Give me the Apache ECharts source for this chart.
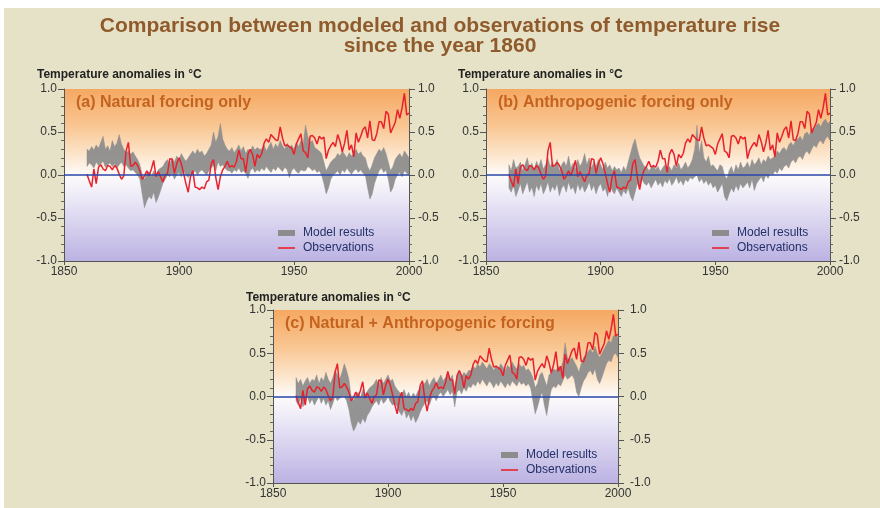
<!DOCTYPE html>
<html>
<head>
<meta charset="utf-8">
<script src="https://cdn.jsdelivr.net/npm/echarts@6/dist/echarts.min.js"></script>
<style>
html,body{margin:0;padding:0;background:#ffffff;}
#chart{width:880px;height:508px;}
</style>
</head>
<body>
<div id="chart"></div>
<script>
// ---------------- DATA ----------------
const startYear = 1860;
const xTicks = [1850, 1900, 1950, 2000];
const yTicks = [-1.0, -0.5, 0.0, 0.5, 1.0];

// Observed temperature anomalies (°C), 1860-2000
const obs = [
  0.01,-0.07,-0.14,0.07,-0.10,0.09,0.12,0.07,0.05,0.11,
  0.10,0.06,0.11,0.08,0.01,-0.05,-0.01,0.28,0.38,0.10,
  0.11,0.15,0.11,0.05,-0.05,-0.01,0.05,-0.01,0.07,0.17,
  -0.02,0.04,-0.02,-0.08,0.00,0.02,0.19,0.18,0.02,0.13,
  0.20,0.13,0.02,-0.10,-0.20,-0.02,0.05,-0.14,-0.15,-0.17,
  -0.14,-0.16,-0.08,-0.06,0.13,0.18,-0.03,-0.17,-0.02,0.06,
  0.10,0.16,0.09,0.11,0.09,0.16,0.29,0.19,0.19,0.03,
  0.24,0.30,0.24,0.10,0.24,0.20,0.25,0.37,0.42,0.38,
  0.47,0.44,0.41,0.40,0.56,0.43,0.34,0.35,0.33,0.31,
  0.24,0.36,0.42,0.48,0.28,0.26,0.20,0.45,0.46,0.43,
  0.36,0.45,0.42,0.44,0.19,0.29,0.34,0.38,0.33,0.47,
  0.39,0.27,0.37,0.52,0.29,0.35,0.21,0.49,0.38,0.45,
  0.53,0.56,0.43,0.63,0.41,0.40,0.48,0.62,0.62,0.54,
  0.74,0.71,0.49,0.55,0.61,0.76,0.66,0.78,0.95,0.70,
  0.72
];

// (a) Natural forcing only: model range low / high
const natLow = [
  0.10,0.14,0.12,0.08,0.15,0.11,0.13,0.16,0.09,0.12,0.14,0.10,0.13,0.08,0.12,0.15,0.10,0.12,
  0.08,0.05,0.06,0.03,0.00,-0.05,
  -0.22,-0.38,-0.30,-0.25,-0.28,-0.20,-0.32,-0.26,-0.18,
  -0.10,-0.05,0.00,-0.02,0.02,-0.05,0.00,0.03,-0.02,0.05,0.00,-0.03,0.02,
  0.02,0.05,0.00,0.04,0.06,0.03,0.00,0.05,
  0.08,0.12,0.05,0.15,0.10,0.12,0.08,0.05,
  0.05,0.02,0.06,0.04,0.08,0.03,0.05,0.02,-0.04,0.05,0.08,0.03,0.06,0.04,
  0.08,0.05,0.10,0.06,0.03,0.08,0.05,0.10,0.07,0.04,0.09,0.06,-0.03,0.05,0.08,0.04,0.02,0.06,0.05,
  0.05,0.10,0.08,0.05,0.07,0.03,0.05,0.00,
  -0.10,-0.22,-0.15,-0.05,0.00,
  0.02,0.05,0.00,0.06,0.03,0.08,0.04,0.01,0.05,0.07,0.03,0.06,0.02,0.00,
  -0.15,-0.28,-0.22,-0.10,-0.02,
  0.05,0.08,0.03,0.06,
  -0.05,-0.20,-0.15,-0.05,
  0.00,0.03,-0.02,0.05,0.02,0.00
];
const natHigh = [
  0.30,0.28,0.33,0.29,0.35,0.31,0.38,0.45,0.30,0.34,0.28,0.40,0.33,0.37,0.47,0.36,0.30,0.26,
  0.28,0.24,0.27,0.22,0.18,0.12,
  0.00,-0.05,0.02,0.04,-0.02,0.05,0.00,0.06,0.08,
  0.10,0.15,0.18,0.12,0.20,0.15,0.22,0.18,0.25,0.20,0.16,0.20,0.24,
  0.28,0.24,0.30,0.26,0.28,0.22,0.25,0.30,
  0.35,0.50,0.38,0.45,0.60,0.42,0.35,0.30,
  0.28,0.32,0.26,0.30,0.35,0.28,0.33,0.25,0.30,0.27,0.34,0.29,0.32,0.30,
  0.30,0.35,0.28,0.33,0.38,0.30,0.36,0.32,0.40,0.34,0.30,0.37,0.32,0.35,0.30,0.38,0.33,0.40,0.36,
  0.58,0.45,0.38,0.40,0.32,0.30,0.28,0.25,
  0.15,0.05,0.10,0.15,0.18,
  0.20,0.25,0.22,0.28,0.24,0.20,0.26,0.22,0.25,0.30,0.24,0.27,0.22,0.20,
  0.10,0.05,0.12,0.20,0.25,
  0.30,0.27,0.32,0.25,
  0.15,0.05,0.10,0.18,
  0.22,0.25,0.20,0.28,0.24,0.20
];

// (b) Anthropogenic forcing only: model range low / high
const antLow = [
  -0.15,-0.20,-0.12,-0.25,-0.18,-0.10,-0.22,-0.15,-0.08,-0.20,
  -0.14,-0.25,-0.12,-0.18,-0.10,-0.22,-0.16,-0.08,-0.20,-0.13,
  -0.18,-0.10,-0.24,-0.15,-0.12,-0.20,-0.08,-0.17,-0.14,-0.22,
  -0.10,-0.18,-0.12,-0.20,-0.15,-0.08,-0.18,-0.12,-0.22,-0.14,
  -0.10,-0.19,-0.15,-0.25,-0.12,-0.18,-0.22,-0.15,-0.20,-0.25,
  -0.18,-0.22,
  -0.15,-0.25,-0.30,-0.20,-0.10,-0.15,-0.05,-0.10,
  -0.12,-0.08,-0.15,-0.10,-0.05,-0.12,-0.08,-0.14,-0.06,-0.10,
  -0.04,-0.12,-0.08,-0.02,-0.10,-0.06,-0.12,-0.05,-0.08,-0.03,
  -0.05,-0.02,0.00,-0.08,-0.04,-0.10,-0.06,-0.12,-0.08,-0.15,
  -0.12,-0.20,-0.15,-0.10,-0.25,-0.30,-0.22,-0.15,-0.20,-0.12,-0.18,-0.10,-0.15,
  -0.12,-0.08,-0.15,-0.05,-0.18,-0.10,-0.06,-0.02,-0.08,0.00,-0.04,0.02,
  0.00,0.05,0.02,0.08,0.05,0.10,0.12,0.08,0.15,0.18,
  0.14,0.20,0.22,0.18,0.25,0.28,0.24,0.30,0.35,0.32,
  0.38,0.40,0.36,0.42,0.45,0.40
];
const antHigh = [
  0.12,0.05,0.18,0.08,0.10,0.15,0.05,0.12,0.20,0.08,
  0.14,0.06,0.16,0.10,0.18,0.07,0.12,0.20,0.10,0.15,
  0.08,0.18,0.05,0.12,0.16,0.10,0.22,0.08,0.14,0.06,
  0.18,0.10,0.15,0.25,0.12,0.20,0.08,0.15,0.10,0.18,
  0.12,0.06,0.15,0.08,0.12,0.05,0.10,0.06,0.08,0.03,
  0.10,0.05,
  0.15,0.25,0.35,0.42,0.30,0.20,0.15,0.10,
  0.10,0.05,0.08,0.12,0.06,0.10,0.04,0.08,0.12,0.06,
  0.10,0.05,0.12,0.08,0.14,0.06,0.10,0.15,0.08,0.12,
  0.18,0.30,0.58,0.25,0.40,0.20,0.15,0.22,0.10,0.12,
  0.08,0.05,0.12,0.10,0.00,-0.05,0.05,0.10,0.02,0.12,0.06,0.15,0.08,
  0.10,0.15,0.08,0.18,0.12,0.15,0.20,0.12,0.18,0.15,0.22,0.18,
  0.20,0.22,0.28,0.25,0.30,0.32,0.28,0.35,0.38,0.34,
  0.40,0.42,0.45,0.40,0.48,0.50,0.46,0.55,0.52,0.58,
  0.60,0.56,0.62,0.65,0.60,0.62
];

// (c) Natural + Anthropogenic forcing: model range low / high
const allLow = [
  -0.05,-0.10,-0.02,-0.12,-0.05,0.00,-0.08,-0.03,-0.10,-0.05,
  0.00,-0.08,-0.02,-0.10,-0.05,-0.15,-0.08,0.00,-0.05,-0.02,0.00,
  0.00,-0.05,-0.15,
  -0.30,-0.40,-0.35,-0.28,-0.32,-0.25,-0.30,-0.22,-0.18,
  -0.12,-0.08,-0.05,-0.10,-0.02,-0.08,-0.05,0.00,-0.06,-0.10,-0.08,-0.12,
  -0.18,-0.22,-0.15,-0.25,-0.20,-0.28,-0.22,-0.30,-0.25,-0.18,-0.12,
  -0.08,-0.05,-0.10,-0.02,0.00,-0.05,0.02,0.05,0.00,0.04,
  0.08,0.02,0.06,-0.12,0.05,0.08,0.03,0.10,0.06,0.12,
  0.10,0.15,0.12,0.18,0.14,0.20,0.16,0.12,0.18,0.15,
  0.10,0.16,0.12,0.18,0.14,0.10,0.16,0.12,0.18,0.15,
  0.12,0.18,0.14,0.16,0.12,0.15,0.10,
  -0.05,-0.20,-0.12,-0.02,0.05,-0.10,-0.22,-0.05,
  0.08,0.12,0.10,0.15,0.12,0.18,0.25,0.20,0.22,0.25,0.20,
  0.05,0.00,0.10,0.18,0.22,
  0.28,0.30,0.25,0.32,
  0.20,0.15,0.22,0.30,
  0.38,0.42,0.40,0.48,0.50,0.45
];
const allHigh = [
  0.22,0.15,0.20,0.12,0.18,0.22,0.15,0.20,0.18,0.25,
  0.15,0.22,0.18,0.28,0.20,0.15,0.22,0.30,0.25,0.20,0.28,
  0.38,0.30,0.20,
  0.00,-0.05,0.02,0.05,-0.02,0.08,0.02,0.06,0.10,
  0.12,0.15,0.20,0.12,0.22,0.15,0.20,0.25,0.18,0.20,0.12,0.08,
  0.05,0.02,0.08,0.00,0.05,-0.02,0.04,0.00,0.06,0.10,0.15,
  0.15,0.20,0.12,0.18,0.22,0.15,0.20,0.25,0.18,0.22,
  0.28,0.20,0.25,0.10,0.24,0.30,0.22,0.28,0.25,0.30,
  0.30,0.35,0.32,0.38,0.34,0.40,0.36,0.32,0.38,0.35,
  0.30,0.36,0.32,0.38,0.34,0.30,0.36,0.33,0.40,0.35,
  0.32,0.38,0.34,0.36,0.30,0.32,0.28,
  0.22,0.10,0.15,0.25,0.28,0.20,0.12,0.25,
  0.28,0.32,0.30,0.35,0.32,0.40,0.62,0.45,0.42,0.45,0.40,
  0.35,0.28,0.38,0.45,0.48,
  0.52,0.55,0.50,0.58,
  0.50,0.45,0.50,0.55,
  0.60,0.65,0.62,0.70,0.72,0.68
];

const panelTitles = ['(a) Natural forcing only', '(b) Anthropogenic forcing only', '(c) Natural + Anthropogenic forcing'];
const legendNames = ['Model results', 'Observations'];
const yAxisTitle = 'Temperature anomalies in °C';
const mainTitleLines = ['Comparison between modeled and observations of temperature rise', 'since the year 1860'];

// ---------------- CHART ----------------
const years = obs.map((_, i) => startYear + i);
const FONT = 'Liberation Sans, Arial, sans-serif';

const chart = echarts.init(document.getElementById('chart'), null, {renderer: 'canvas'});

function plotBg() {
  return new echarts.graphic.LinearGradient(0, 0, 0, 1, [
    {offset: 0, color: '#f5a862'},
    {offset: 0.22, color: '#f9c793'},
    {offset: 0.42, color: '#fdecd9'},
    {offset: 0.5, color: '#fdfbfa'},
    {offset: 0.62, color: '#eeebf8'},
    {offset: 1, color: '#bbb2e2'}
  ]);
}

const grids = [
  {left: 64, top: 89, width: 345, height: 172},
  {left: 486, top: 89, width: 344, height: 172},
  {left: 273, top: 310, width: 345, height: 173}
];
const bands = [[natLow, natHigh], [antLow, antHigh], [allLow, allHigh]];
const legendPos = [
  {left: 273, top: 222},
  {left: 707, top: 222},
  {left: 496, top: 444}
];
const titlePos = [
  {left: 32, top: 64},
  {left: 453, top: 64},
  {left: 241, top: 287}
];
const rightMargins = [9, 9, 12];

const option = {
  backgroundColor: 'transparent',
  animation: false,
  textStyle: {fontFamily: FONT},
  graphic: [{
    type: 'rect', z: -10, silent: true,
    shape: {x: 4, y: 8, width: 876, height: 500},
    style: {fill: '#e6e2c7'}
  }],
  title: [],
  legend: [],
  grid: [],
  xAxis: [],
  yAxis: [],
  series: []
};

mainTitleLines.forEach((t, i) => {
  option.title.push({
    text: t, left: 'center', top: 11 + i * 20,
    textStyle: {fontFamily: FONT, fontSize: 21, fontWeight: 'bold', color: '#8f5a2c'}
  });
});

function makeBandRenderer(low, high) {
  return function (params, api) {
    if (params.dataIndex !== 0) return null;
    const pts = [];
    for (let i = 0; i < years.length; i++) pts.push(api.coord([years[i], high[i]]));
    for (let i = years.length - 1; i >= 0; i--) pts.push(api.coord([years[i], low[i]]));
    return {
      type: 'polygon',
      shape: {points: pts},
      style: {fill: '#8c8c8c', stroke: '#8c8c8c', lineWidth: 0.5, opacity: 0.93}
    };
  };
}

grids.forEach((g, k) => {
  option.grid.push(Object.assign({show: true, backgroundColor: plotBg(), borderWidth: 0}, g));
  option.title.push({
    text: yAxisTitle, left: titlePos[k].left, top: titlePos[k].top,
    textStyle: {fontFamily: FONT, fontSize: 12, fontWeight: 'bold', color: '#222'}
  });
  option.title.push({
    text: panelTitles[k], left: g.left + 7, top: g.top + 1,
    textStyle: {fontFamily: FONT, fontSize: 16, fontWeight: 'bold', color: '#c4631f'}
  });
  option.xAxis.push({
    type: 'value', gridIndex: k, min: xTicks[0], max: xTicks[xTicks.length - 1],
    interval: xTicks[1] - xTicks[0],
    axisLine: {show: true, onZero: false, lineStyle: {color: '#555', width: 1}},
    axisTick: {show: true, length: 4, lineStyle: {color: '#555'}},
    axisLabel: {color: '#333', fontSize: 12, margin: 5, fontFamily: FONT, showMinLabel: true, showMaxLabel: true,
      formatter: v => String(v)},
    splitLine: {show: false}
  });
  ['left', 'right'].forEach(pos => {
    option.yAxis.push({
      type: 'value', gridIndex: k, position: pos,
      min: yTicks[0], max: yTicks[yTicks.length - 1], interval: yTicks[1] - yTicks[0],
      axisLine: {show: true, onZero: false, lineStyle: {color: '#555', width: 1}},
      axisTick: {show: true, length: 6, lineStyle: {color: '#555'}},
      minorTick: {show: true, splitNumber: 5, length: 3, lineStyle: {color: '#666'}},
      axisLabel: {color: '#333', fontSize: 12, margin: pos === 'left' ? 7 : rightMargins[k], fontFamily: FONT,
        formatter: v => v.toFixed(1)},
      splitLine: {show: false}
    });
  });
  const yi = k * 2;
  const low = bands[k][0], high = bands[k][1];
  option.series.push({
    type: 'custom', name: legendNames[0], xAxisIndex: k, yAxisIndex: yi,
    coordinateSystem: 'cartesian2d', silent: true,
    data: years.map((y, i) => [y, low[i], high[i]]),
    encode: {x: 0, y: [1, 2]},
    itemStyle: {color: '#8c8c8c'},
    renderItem: makeBandRenderer(low, high),
    markLine: {
      silent: true, symbol: 'none', label: {show: false},
      lineStyle: {color: '#2a46a8', width: 1.6, type: 'solid'},
      data: [{yAxis: 0}]
    },
    z: 3
  });
  option.series.push({
    type: 'line', name: legendNames[1], xAxisIndex: k, yAxisIndex: yi,
    symbol: 'none', showSymbol: false, silent: true,
    itemStyle: {color: '#e8222c'},
    lineStyle: {width: 1.5, color: '#e8222c'},
    data: years.map((y, i) => [y, obs[i]]),
    z: 4
  });
  option.legend.push({
    orient: 'vertical', left: legendPos[k].left, top: legendPos[k].top,
    itemWidth: 17, itemHeight: 6, itemGap: 3, selectedMode: false,
    symbolKeepAspect: true,
    textStyle: {fontFamily: FONT, fontSize: 12, color: '#233069', padding: [0, 0, 0, 3]},
    data: [
      {name: legendNames[0], icon: 'rect', itemStyle: {color: '#8c8c8c'}},
      {name: legendNames[1], icon: 'path://M0,0H17V1.6H0Z', itemStyle: {color: '#e8222c'}}
    ]
  });
});

chart.setOption(option);
</script>
</body>
</html>
